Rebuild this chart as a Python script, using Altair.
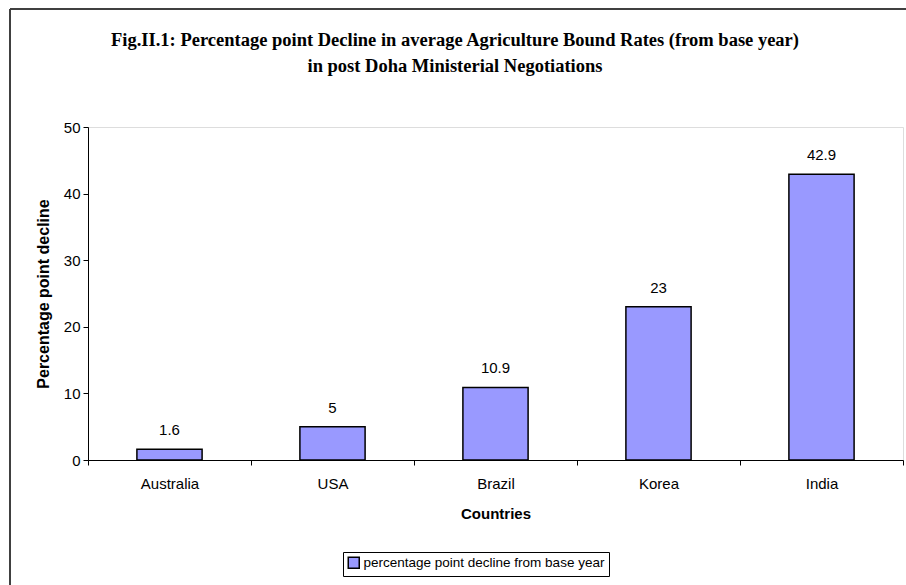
import altair as alt
import pandas as pd

countries = ["Australia", "USA", "Brazil", "Korea", "India"]
values = [1.6, 5, 10.9, 23, 42.9]
series_name = "percentage point decline from base year"
title_line1 = "Fig.II.1: Percentage point Decline in average Agriculture Bound Rates (from base year)"
title_line2 = "in post Doha Ministerial Negotiations"

df = pd.DataFrame({"Country": countries, "Value": values, "Series": [series_name] * len(countries)})

W, H = 815, 333
SANS = "Liberation Sans"
SERIF = "Liberation Serif"

x = alt.X("Country:N", sort=countries, scale=alt.Scale(paddingInner=0, paddingOuter=0),
          axis=alt.Axis(title="Countries", titleFont=SANS, titleFontSize=15, titleFontWeight="bold",
                        titleColor="black", titleY=53, titleBaseline="middle",
                        labelFont=SANS, labelFontSize=15, labelColor="black", labelAngle=0,
                        labelPadding=11, tickBand="extent", tickSize=5, tickColor="black",
                        domainColor="black", domainWidth=1))
y = alt.Y("Value:Q", scale=alt.Scale(domain=[0, 50], nice=False),
          axis=alt.Axis(title="Percentage point decline", titleFont=SANS, titleFontSize=16,
                        titleFontWeight="bold", titleColor="black", titleX=-45, titleY=H / 2,
                        titleBaseline="middle", titleAlign="center",
                        values=[0, 10, 20, 30, 40, 50], labelFont=SANS, labelFontSize=15,
                        labelColor="black", labelPadding=3, tickSize=5, tickColor="black",
                        domainColor="black", grid=False))

bars = alt.Chart(df).mark_bar(width=alt.RelativeBandSize(0.4), stroke="black", strokeWidth=1.5).encode(
    x=x, y=y,
    color=alt.Color("Series:N", scale=alt.Scale(range=["#9999FF"]),
                    legend=alt.Legend(title=None, orient="none", legendX=255, legendY=425,
                                      strokeColor="black", padding=4, symbolType="square",
                                      symbolSize=121, symbolStrokeColor="black", symbolStrokeWidth=1.5,
                                      labelFont=SANS, labelFontSize=13.5, labelColor="black",
                                      labelOffset=3, labelLimit=0)),
)

labels = alt.Chart(df).mark_text(font=SANS, fontSize=15, color="black", baseline="middle", dy=-19).encode(
    x=alt.X("Country:N", sort=countries), y="Value:Q", text="Value:Q"
)

one = alt.Data(values=[{}])
frame_left = alt.Chart(one).mark_rule(color="#404040", strokeWidth=2).encode(
    x=alt.value(-78), y=alt.value(-118), y2=alt.value(H + 200))
frame_top = alt.Chart(one).mark_rule(color="#404040", strokeWidth=2).encode(
    x=alt.value(-78), x2=alt.value(W + 100), y=alt.value(-118))

title1 = alt.Chart(one).mark_text(font=SERIF, fontSize=18.5, fontWeight="bold", color="black",
                                  align="center", baseline="alphabetic", text=title_line1).encode(
    x=alt.value(367), y=alt.value(-81))
title2 = alt.Chart(one).mark_text(font=SERIF, fontSize=18.5, fontWeight="bold", color="black",
                                  align="center", baseline="alphabetic", text=title_line2).encode(
    x=alt.value(367), y=alt.value(-55))

chart = alt.layer(frame_left, frame_top, title1, title2, bars, labels).properties(
    width=W, height=H,
    autosize=alt.AutoSizeParams(type="none"),
    padding={"left": 88, "top": 127, "right": 3, "bottom": 125},
).configure_view(stroke="#808080", strokeWidth=1).configure(background="white")

chart.save("out.html", embed_options={"renderer": "svg", "actions": False})
